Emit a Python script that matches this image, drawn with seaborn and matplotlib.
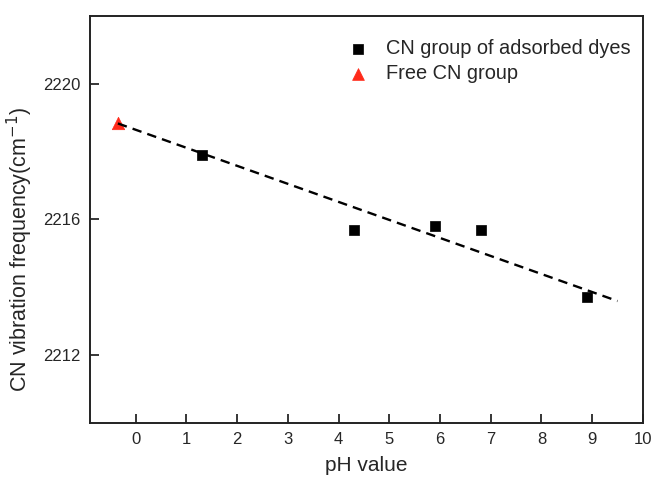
import matplotlib
matplotlib.use("Agg")
import matplotlib.pyplot as plt
import seaborn as sns
import pandas as pd

# data
ph_dyes = [1.3, 4.3, 5.9, 6.8, 8.9]
freq_dyes = [2217.9, 2215.7, 2215.8, 2215.7, 2213.7]
ph_free = [-0.35]
freq_free = [2218.83]
fit_x = [-0.35, 9.5]
fit_y = [2218.83, 2213.59]
xticks = list(range(0, 11))
yticks = [2212, 2216, 2220]

sns.set_style("ticks")
plt.rcParams["font.family"] = ["Liberation Sans", "DejaVu Sans"]

fig = plt.figure(figsize=(6.54, 4.79), dpi=100)
ax = fig.add_axes([0.1376, 0.1175, 0.8454, 0.8491])

dyes = pd.DataFrame({"pH": ph_dyes, "freq": freq_dyes})
free = pd.DataFrame({"pH": ph_free, "freq": freq_free})

sns.scatterplot(data=dyes, x="pH", y="freq", ax=ax, marker="s", s=62,
                color="black", edgecolor="black", linewidth=0.5,
                label="CN group of adsorbed dyes", zorder=3)
sns.scatterplot(data=free, x="pH", y="freq", ax=ax, marker="^", s=80,
                color="#ff2a1a", edgecolor="#ff2a1a", linewidth=0.5,
                label="Free CN group", zorder=3)
sns.lineplot(x=fit_x, y=fit_y, ax=ax, color="black", linewidth=1.7,
             linestyle=(0, (4, 2.6)), zorder=4)

ax.set_xlim(-0.9, 10)
ax.set_ylim(2210, 2222)
ax.set_xticks(xticks)
ax.set_yticks(yticks)
ax.tick_params(direction="in", length=6.5, width=1.3, labelsize=12,
               top=False, right=False, pad=7)
for sp in ax.spines.values():
    sp.set_linewidth(1.4)
    sp.set_color("#222222")

ax.set_xlabel("pH value", fontsize=15, labelpad=6)
ax.set_ylabel("CN vibration frequency(cm$^{-1}$)", fontsize=15.5)
ax.yaxis.set_label_coords(-0.1, 0.425)

ax.legend(loc="upper right", bbox_to_anchor=(0.992, 0.963), borderaxespad=0,
          frameon=False, fontsize=14.4, handletextpad=0.4, labelspacing=0.3,
          markerscale=0.95)

fig.savefig("out.png", dpi=100)
